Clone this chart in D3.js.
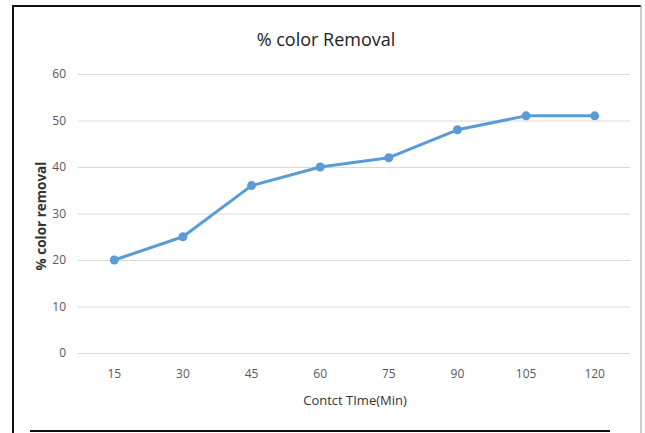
<!DOCTYPE html>
<html><head><meta charset="utf-8">
<script src="https://cdn.jsdelivr.net/npm/d3@7"></script>
<style>body{margin:0;background:#fff;} svg{display:block;}</style>
</head><body>
<svg id="c" width="645" height="433"></svg>
<script>
const categories = ["15","30","45","60","75","90","105","120"];
const values = [20, 25, 36, 40, 42, 48, 51, 51];
const yTicks = [0, 10, 20, 30, 40, 50, 60];
const title = "% color Removal";
const xTitle = "Contct TIme(Min)";
const yTitle = "% color removal";

const svg = d3.select("#c");
const font = "'Liberation Sans Narrow','Open Sans',Arial,sans-serif";
// frame
svg.append("line").attr("x1",13).attr("x2",641).attr("y1",6).attr("y2",6).attr("stroke","#111").attr("stroke-width",2);
svg.append("line").attr("x1",13).attr("x2",13).attr("y1",5).attr("y2",433).attr("stroke","#111").attr("stroke-width",2);
svg.append("line").attr("x1",641).attr("x2",641).attr("y1",5).attr("y2",433).attr("stroke","#999").attr("stroke-width",1);
svg.append("line").attr("x1",30).attr("x2",610).attr("y1",431).attr("y2",431).attr("stroke","#111").attr("stroke-width",2);

const L=78, R=630, T=74, B=353;
const x = d3.scaleBand().domain(categories).range([80,629]);
const y = d3.scaleLinear().domain([0,60]).range([B,T]);

const gy = svg.append("g").attr("transform",`translate(${L},0)`)
  .call(d3.axisLeft(y).tickValues(yTicks).tickSize(-(R-L)).tickPadding(12));
gy.select(".domain").remove();
gy.selectAll(".tick line").attr("stroke","#d9d9d9").attr("stroke-width",1);
gy.selectAll(".tick text").attr("fill","#595959").style("font-family",font).style("font-size","12px");

const gx = svg.append("g").attr("transform",`translate(0,${B})`)
  .call(d3.axisBottom(x).tickSize(0).tickPadding(16));
gx.select(".domain").remove();
gx.selectAll(".tick text").attr("fill","#595959").style("font-family",font).style("font-size","12px");

const line = d3.line().x((d,i)=>x(categories[i])+x.bandwidth()/2).y(d=>y(d));
svg.append("path").datum(values).attr("d",line).attr("fill","none").attr("stroke","#5B9BD5").attr("stroke-width",3).attr("stroke-linejoin","round");
svg.selectAll("circle.pt").data(values).enter().append("circle").attr("class","pt")
  .attr("cx",(d,i)=>x(categories[i])+x.bandwidth()/2).attr("cy",d=>y(d)).attr("r",4.5).attr("fill","#5B9BD5");

svg.append("text").attr("x",326).attr("y",46).attr("text-anchor","middle").attr("fill","#222")
  .style("font-family",font).style("font-size","18px").text(title);
svg.append("text").attr("x",355).attr("y",405).attr("text-anchor","middle").attr("fill","#333")
  .style("font-family",font).style("font-size","13px").text(xTitle);
svg.append("text").attr("transform","translate(46,216) rotate(-90)").attr("text-anchor","middle").attr("fill","#333")
  .style("font-family","'Open Sans',Arial,sans-serif").style("font-weight","bold").style("font-size","13.5px").text(yTitle);
</script>
</body></html>
